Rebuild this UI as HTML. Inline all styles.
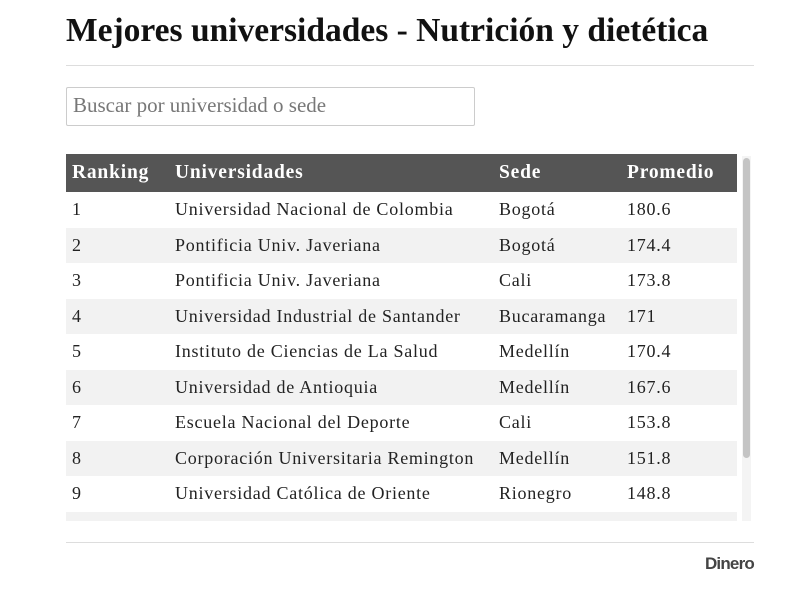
<!DOCTYPE html>
<html><head><meta charset="utf-8"><style>
body{margin:0;width:800px;height:600px;background:#fff;font-family:"Liberation Serif",serif;color:#222;position:relative;overflow:hidden}
.t{position:absolute;left:66px;top:12px;font-size:33.5px;font-weight:bold;color:#111;white-space:nowrap}
.hr{position:absolute;left:66px;width:688px;height:1px;background:#ddd}
.search{position:absolute;left:66px;top:87px;width:409px;height:39px;border:1px solid #ccc;border-radius:2px;box-sizing:border-box;font-size:21px;color:#777;padding:5px 6px}
.wrap{position:absolute;left:66px;top:154px;width:671px;height:367px;overflow:hidden}
.row{position:absolute;left:0;width:671px;height:35.5px;font-size:18px;letter-spacing:0.75px}
.row span{position:absolute;top:7px;white-space:nowrap}
.hd{background:#555;color:#fff;height:38px;font-weight:bold;font-size:19.5px;top:0;letter-spacing:0.8px}
.hd span{top:8px}
.sh{background:#f2f2f2}
.c1{left:6px}.c2{left:109px}.c3{left:433px}.c4{left:561px}
.sb{position:absolute;left:742px;top:156px;width:9px;height:365px;background:#f4f4f4}
.th{position:absolute;left:743px;top:158px;width:7px;height:300px;background:#c4c4c4;border-radius:4px}
.d{position:absolute;right:46px;top:554px;font-family:"Liberation Sans",sans-serif;font-weight:bold;font-size:17px;color:#444;letter-spacing:-0.8px}
</style></head><body>
<div class="t">Mejores universidades - Nutrición y dietética</div>
<div class="hr" style="top:65px"></div>
<div class="search">Buscar por universidad o sede</div>
<div class="wrap">
<div class="row hd"><span class="c1">Ranking</span><span class="c2">Universidades</span><span class="c3">Sede</span><span class="c4">Promedio</span></div>
<div class="row" style="top:38px"><span class="c1">1</span><span class="c2">Universidad Nacional de Colombia</span><span class="c3">Bogotá</span><span class="c4">180.6</span></div>
<div class="row sh" style="top:73.5px"><span class="c1">2</span><span class="c2">Pontificia Univ. Javeriana</span><span class="c3">Bogotá</span><span class="c4">174.4</span></div>
<div class="row" style="top:109px"><span class="c1">3</span><span class="c2">Pontificia Univ. Javeriana</span><span class="c3">Cali</span><span class="c4">173.8</span></div>
<div class="row sh" style="top:144.5px"><span class="c1">4</span><span class="c2">Universidad Industrial de Santander</span><span class="c3">Bucaramanga</span><span class="c4">171</span></div>
<div class="row" style="top:180px"><span class="c1">5</span><span class="c2">Instituto de Ciencias de La Salud</span><span class="c3">Medellín</span><span class="c4">170.4</span></div>
<div class="row sh" style="top:215.5px"><span class="c1">6</span><span class="c2">Universidad de Antioquia</span><span class="c3">Medellín</span><span class="c4">167.6</span></div>
<div class="row" style="top:251px"><span class="c1">7</span><span class="c2">Escuela Nacional del Deporte</span><span class="c3">Cali</span><span class="c4">153.8</span></div>
<div class="row sh" style="top:286.5px"><span class="c1">8</span><span class="c2">Corporación Universitaria Remington</span><span class="c3">Medellín</span><span class="c4">151.8</span></div>
<div class="row" style="top:322px"><span class="c1">9</span><span class="c2">Universidad Católica de Oriente</span><span class="c3">Rionegro</span><span class="c4">148.8</span></div>
<div class="row sh" style="top:357.5px"><span class="c1">10</span><span class="c2">Universidad del Valle</span><span class="c3">Cali</span><span class="c4">148</span></div>
</div>
<div class="sb"></div><div class="th"></div>
<div class="hr" style="top:542px"></div>
<div class="d">Dinero</div>
</body></html>
